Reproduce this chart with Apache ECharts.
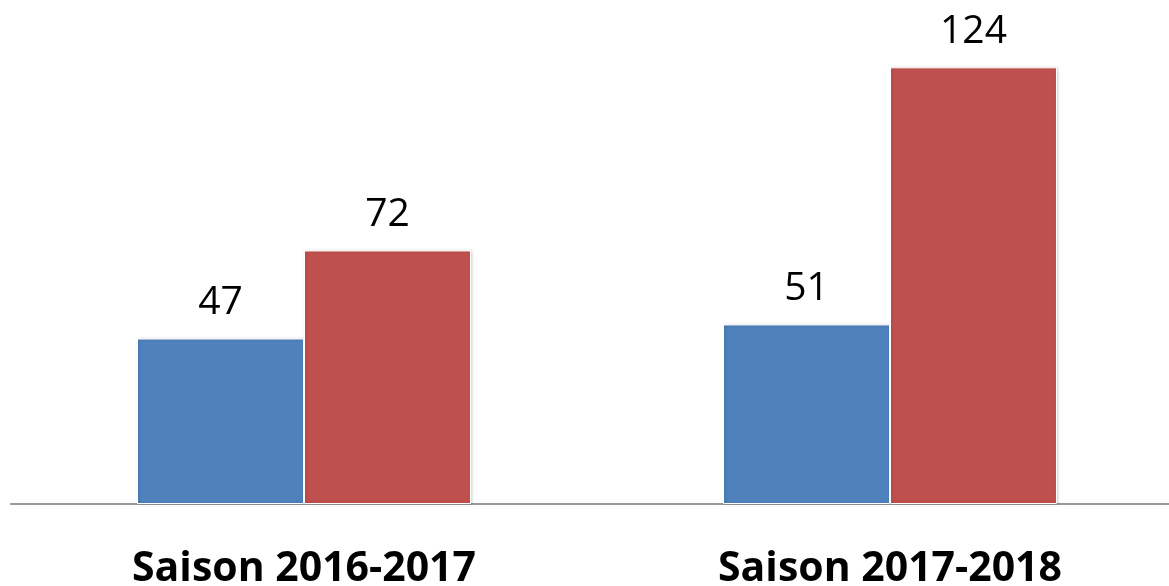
<!DOCTYPE html>
<html>
<head>
<meta charset="utf-8">
<script src="https://cdn.jsdelivr.net/npm/echarts@6/dist/echarts.min.js"></script>
<style>
  html, body { margin: 0; padding: 0; background: #fff; overflow: hidden; }
  #chart { width: 1183px; height: 586px; }
</style>
</head>
<body>
<div id="chart"></div>
<script>
const categories = ['Saison 2016-2017', 'Saison 2017-2018']
const seriesA = [47, 51]
const seriesB = [72, 124]

const chart = echarts.init(document.getElementById('chart'))

const barStyle = color => ({
  color,
  borderColor: '#ffffff',
  borderWidth: 1,
  shadowColor: 'rgba(0,0,0,0.18)',
  shadowBlur: 3,
  shadowOffsetX: 1
})

const labelStyle = {
  show: true,
  position: 'top',
  distance: 16,
  color: '#000',
  fontSize: 39,
  fontFamily: 'Open Sans'
}

chart.setOption({
  animation: false,
  grid: { left: 11, right: 0, top: 11, bottom: 82, outerBoundsMode: 'none', containLabel: false },
  xAxis: {
    type: 'category',
    data: categories,
    axisTick: { show: false },
    axisLine: { lineStyle: { color: '#999999', width: 2 } },
    axisLabel: {
      color: '#000',
      fontSize: 41,
      fontWeight: 'bold',
      fontFamily: 'Open Sans',
      margin: 45
    }
  },
  yAxis: {
    type: 'value',
    min: 0,
    max: 140,
    show: false,
    splitLine: { show: false }
  },
  series: [
    {
      type: 'bar',
      data: seriesA,
      barWidth: 167,
      barGap: '0%',
      itemStyle: barStyle('#4f81bd'),
      label: labelStyle
    },
    {
      type: 'bar',
      data: seriesB,
      barWidth: 167,
      itemStyle: barStyle('#c0504d'),
      label: labelStyle
    }
  ]
})
</script>
</body>
</html>
